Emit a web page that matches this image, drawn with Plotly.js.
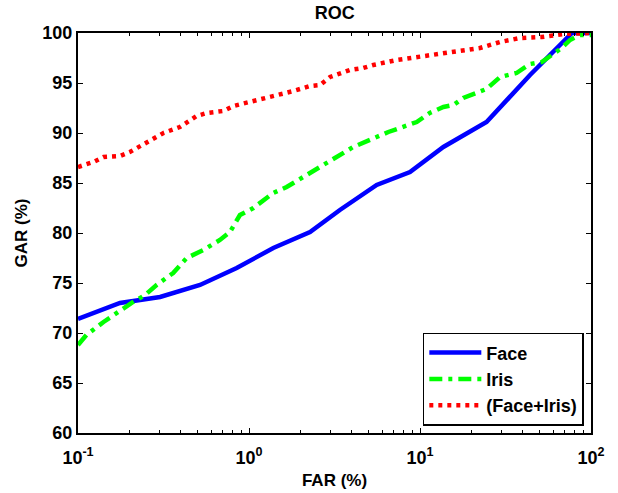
<!DOCTYPE html>
<html>
<head>
<meta charset="utf-8">
<script src="https://cdn.plot.ly/plotly-3.0.1.min.js"></script>
<style>html,body{margin:0;padding:0;background:#fff;}#chart{width:618px;height:493px;}</style>
</head>
<body>
<div id="chart"></div>
<script>
// FAR (%) / GAR (%) values
var faceFar = [0.1, 0.176, 0.302, 0.517, 0.847, 1.387, 2.275, 3.40, 5.58, 8.74, 13.7, 24.5, 44.0, 77.4, 100];
var faceGar = [71.4, 73.0, 73.6, 74.8, 76.5, 78.5, 80.1, 82.3, 84.8, 86.1, 88.6, 91.1, 95.8, 100, 100];

var irisFar = [0.1, 0.112, 0.141, 0.161, 0.176, 0.21, 0.247, 0.288, 0.360, 0.432, 0.541, 0.676, 0.774, 0.885, 1.06, 1.387, 1.66, 2.08, 2.98, 4.07, 6.53, 9.57, 11.4, 13.7, 15.7, 17.9, 24.5, 29.4, 36.7, 44.0, 51.5, 58.9, 67.4, 75.4, 86.3, 100];
var irisGar = [68.8, 69.8, 71.1, 71.8, 72.3, 73.1, 73.8, 74.8, 76.0, 77.5, 78.3, 79.3, 80.1, 81.8, 82.5, 84.0, 84.6, 85.6, 87.3, 88.6, 90.1, 91.1, 92.0, 92.6, 92.8, 93.5, 94.4, 95.6, 96.0, 96.9, 97.1, 97.8, 98.5, 99.3, 99.8, 99.8];

var fusedFar = [0.1, 0.123, 0.141, 0.176, 0.201, 0.252, 0.316, 0.394, 0.494, 0.566, 0.708, 0.810, 1.01, 1.27, 1.82, 2.275, 2.60, 2.98, 3.90, 4.66, 5.33, 7.31, 11.4, 15.0, 22.4, 29.4, 38.5, 51.5, 68.9, 100];
var fusedGar = [86.6, 87.1, 87.6, 87.7, 88.1, 89.1, 90.0, 90.6, 91.7, 92.0, 92.2, 92.7, 93.1, 93.6, 94.2, 94.7, 94.8, 95.6, 96.3, 96.5, 96.8, 97.3, 97.8, 98.0, 98.5, 99.1, 99.5, 99.6, 99.9, 100];

var seriesNames = ['Face', 'Iris', '(Face+Iris)'];
var xTickVals = [0.1, 1, 10, 100];
var xTickText = ['10<sup>-1</sup>', '10<sup>0</sup>', '10<sup>1</sup>', '10<sup>2</sup>'];
var yTickVals = [60, 65, 70, 75, 80, 85, 90, 95, 100];

var minorVals = [];
[0.1, 1, 10].forEach(function (d) { for (var k = 2; k <= 9; k++) minorVals.push(d * k); });

var FONT = '"Liberation Sans", Arial, Helvetica, sans-serif';

var traces = [
  {x: faceFar, y: faceGar, name: seriesNames[0], type: 'scatter', mode: 'lines',
   line: {color: '#0000ff', width: 4.5}},
  {x: irisFar, y: irisGar, name: seriesNames[1], type: 'scatter', mode: 'lines',
   line: {color: '#00ff00', width: 4.5, dash: '13px,6px,4px,6px'}},
  {x: fusedFar, y: fusedGar, name: seriesNames[2], type: 'scatter', mode: 'lines',
   line: {color: '#ff0000', width: 4.5, dash: '4px,5px'}}
];

var layout = {
  width: 618, height: 493,
  margin: {l: 78, r: 27, t: 33, b: 60},
  paper_bgcolor: '#ffffff', plot_bgcolor: '#ffffff',
  font: {family: FONT, size: 17, color: '#000000', weight: 'bold'},
  title: {text: '<b>ROC</b>', x: 0.5417, xanchor: 'center', y: 0.975, yanchor: 'middle',
          font: {family: FONT, size: 18, color: '#000'}},
  showlegend: true,
  legend: {x: 0.986, xanchor: 'right', y: 0.018, yanchor: 'bottom',
           bgcolor: '#ffffff', bordercolor: '#000000', borderwidth: 1.5,
           font: {family: FONT, size: 18, color: '#000', weight: 'bold'},
           itemwidth: 52, tracegroupgap: 0},
  xaxis: {
    type: 'log', range: [-1, 2], tickmode: 'array', tickvals: xTickVals, ticktext: xTickText,
    ticks: 'inside', ticklen: 5, tickwidth: 1, tickcolor: '#000',
    showline: true, linecolor: '#000', linewidth: 2, mirror: 'ticks',
    showgrid: false, zeroline: false, ticklabelstandoff: 7,
    tickfont: {family: FONT, size: 18, color: '#000', weight: 'bold'},
    minor: {tickmode: 'array', tickvals: minorVals, ticks: 'inside', ticklen: 3, tickcolor: '#000', showgrid: false},
    title: {text: '<b>FAR (%)</b>', font: {family: FONT, size: 17, color: '#000'}, standoff: 8}
  },
  yaxis: {
    range: [60, 100], tickmode: 'array', tickvals: yTickVals,
    ticks: 'inside', ticklen: 5, tickwidth: 1, tickcolor: '#000',
    showline: true, linecolor: '#000', linewidth: 2, mirror: 'ticks',
    showgrid: false, zeroline: false,
    tickfont: {family: FONT, size: 18, color: '#000', weight: 'bold'},
    title: {text: '<b>GAR (%)</b>', font: {family: FONT, size: 17, color: '#000'}, standoff: 10}
  }
};

Plotly.newPlot('chart', traces, layout, {displayModeBar: false, staticPlot: true});
</script>
</body>
</html>
